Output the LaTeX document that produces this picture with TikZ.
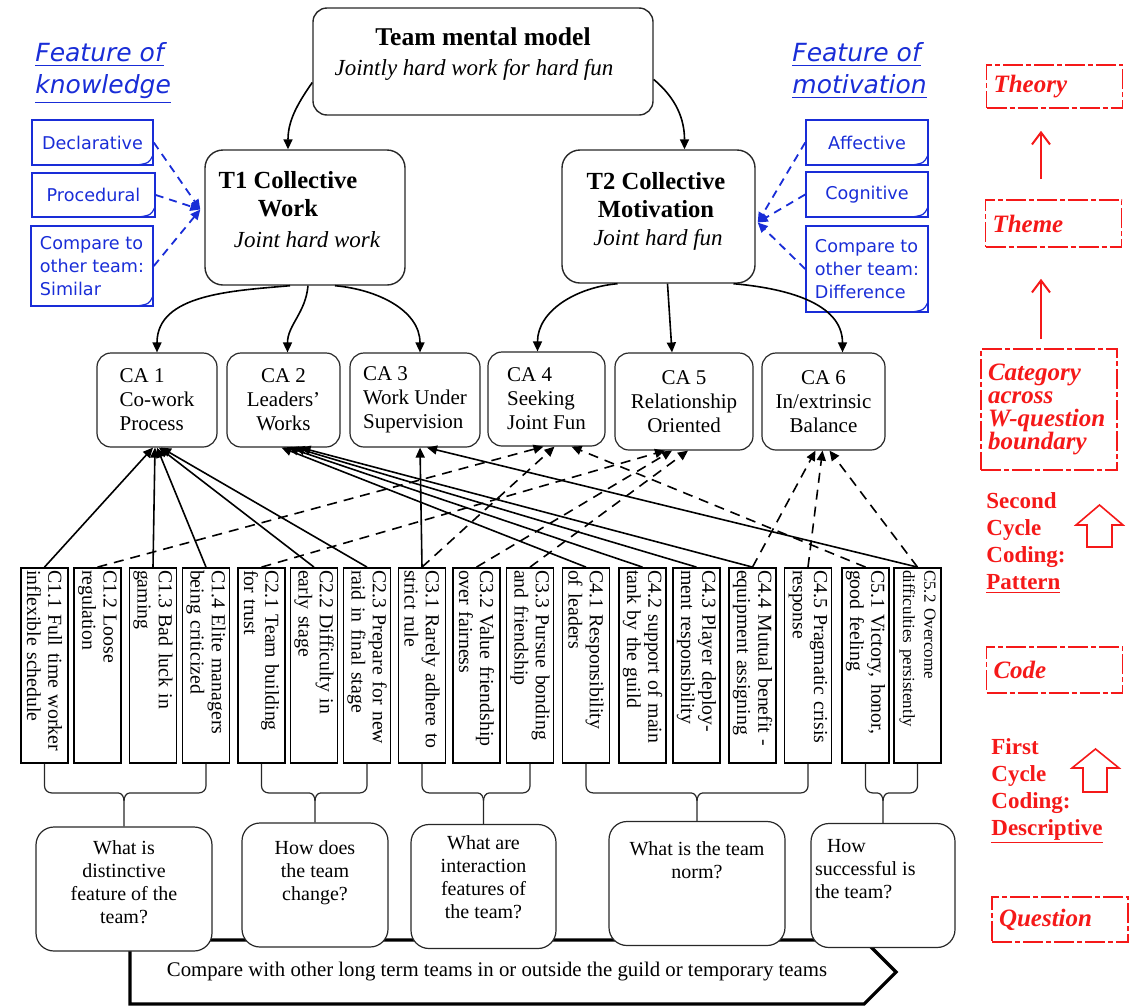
\documentclass[tikz,border=0pt]{standalone}
\usepackage{fontspec}
\setmainfont{Liberation Serif}
\newfontfamily\notefont{DejaVu Sans}
\usepackage{tikz}
\usetikzlibrary{arrows.meta,positioning,calc,shapes.symbols}
\definecolor{cLine}{RGB}{40,40,40}
\definecolor{cBlue}{RGB}{25,45,215}
\definecolor{cRed}{RGB}{245,25,25}
\tikzset{
  rbox/.style={draw=cLine, line width=0.7pt, rounded corners=9pt, fill=white},
  ttl/.style={font=\fontsize{12.3}{14}\selectfont\bfseries, align=center},
  sub/.style={font=\fontsize{11.5}{13}\selectfont\itshape},
  ca/.style={draw=cLine, line width=0.6pt, rounded corners=7pt, minimum width=60pt,
             minimum height=47pt, inner sep=1pt, font=\fontsize{10.5}{12}\selectfont},
  code/.style={draw=black, line width=0.9pt, rotate=-90, minimum width=97.5pt,
               minimum height=23.5pt, text width=95.5pt, inner xsep=1pt, inner ysep=1pt,
               align=left, font=\fontsize{9.9}{10.6}\selectfont},
  ques/.style={draw=cLine, line width=0.6pt, rounded corners=9pt, fill=white,
               inner sep=2pt, font=\fontsize{10}{11.5}\selectfont},
  note/.style={draw=cBlue, line width=0.8pt, text=cBlue, align=left,
               font=\notefont\fontsize{8.8}{11.5}\selectfont,
               path picture={\draw[cBlue, line width=0.6pt]
                 ([xshift=-8pt]path picture bounding box.south east) .. controls
                 ([xshift=-2pt,yshift=1pt]path picture bounding box.south east) ..
                 ([yshift=5pt]path picture bounding box.south east);}},
  feat/.style={text=cBlue, font=\notefont\fontsize{12.5}{16}\selectfont\itshape,
               align=left, anchor=west, inner sep=0pt},
  leg/.style={draw=cRed, line width=0.8pt, dash pattern=on 10pt off 1.5pt on 2.5pt off 1.5pt,
              text=cRed, font=\fontsize{12.5}{11.5}\selectfont\bfseries\itshape,
              align=left, text width=61pt, inner xsep=3.5pt},
  legtxt/.style={text=cRed, font=\fontsize{11.5}{13.5}\selectfont\bfseries,
                 align=left, anchor=west, inner sep=0pt},
  arr/.style={-{Triangle[length=5pt,width=4.5pt]}, line width=0.8pt},
  darr/.style={arr, dash pattern=on 5pt off 3.5pt},
  barr/.style={-{Triangle[length=5pt,width=4.5pt]}, cBlue, line width=0.9pt,
               dash pattern=on 4pt off 3pt},
  rarr/.style={-{Straight Barb[length=6pt,width=9pt]}, cRed, line width=1pt},
  brk/.style={draw=cLine, line width=0.6pt},
}
\newcommand{\qtxt}[3]{\parbox[c][58pt][t]{#1}{\centering\vspace*{#2}#3}}

\begin{document}
\begin{tikzpicture}[x=0.5pt, y=-0.5pt]
  \useasboundingbox (0,0) rectangle (1135,1007);

  % theory and themes
  \node[rbox, minimum width=170pt, minimum height=53.5pt, rounded corners=7pt] (tmm) at (483,61.5) {};
  \node[ttl, font=\fontsize{12.8}{14}\selectfont\bfseries] (tmmttl) at (483,37) {Team mental model};
  \node[sub] (tmmsub) at (474,70) {Jointly hard work for hard fun};

  \node[rbox, minimum width=100pt, minimum height=67.5pt] (t1) at (305,217.5) {};
  \node[ttl] (t1ttl) at (288,194) {T1 Collective\\Work};
  \node[sub] (t1sub) at (307,240) {Joint hard work};
  \node[rbox, minimum width=96.5pt, minimum height=66.5pt] (t2) at (658.5,216.5) {};
  \node[ttl] (t2ttl) at (656,195) {T2 Collective\\Motivation};
  \node[sub] (t2sub) at (658,240) {Joint hard fun};

  \draw[arr] (tmm.187) to[out=235,in=90] ($(t1.north)+(-17,0)$);
  \draw[arr] (tmm.354) to[out=-40,in=90] ($(t2.north)+(26,0)$);

  % features
  \node[feat] (fknow) at (35,73) {\underline{Feature of}\\\underline{knowledge}};
  \node[feat] (fmot) at (792,70.5) {\underline{Feature of}\\\underline{motivation}};
  \node[note, minimum width=60.5pt, minimum height=22.5pt] (kdec) at (92.5,142.5) {Declarative};
  \node[note, minimum width=61.5pt, minimum height=22pt] (kproc) at (93.5,195) {Procedural};
  \node[note, minimum width=61pt, minimum height=40pt] (ksim) at (92,266) {Compare to\\other team:\\Similar};
  \node[note, minimum width=61pt, minimum height=22.5pt] (maff) at (867,142.5) {Affective};
  \node[note, minimum width=61pt, minimum height=22.5pt] (mcog) at (867,194.5) {Cognitive};
  \node[note, minimum width=61pt, minimum height=43pt] (mdif) at (867,269) {Compare to\\other team:\\Difference};

  \draw[barr] (kdec.east) -- ([xshift=-2pt,yshift=4pt]t1.west);
  \draw[barr] (kproc.east) -- ([xshift=-2pt,yshift=4pt]t1.west);
  \draw[barr] (ksim.east) -- ([xshift=-2pt,yshift=4pt]t1.west);
  \draw[barr] (maff.west) -- ([xshift=1pt,yshift=-3pt]t2.east);
  \draw[barr] (mcog.west) -- ([xshift=1pt,yshift=-3pt]t2.east);
  \draw[barr] (mdif.west) -- ([xshift=1pt,yshift=-3pt]t2.east);

  % categories
  \node[ca, align=left] (ca1) at (157,400) {CA 1\\Co-work\\Process};
  \node[ca, minimum width=56.5pt, align=center] (ca2) at (283.5,400) {CA 2\\Leaders'\\Works};
  \node[ca, minimum width=65pt, align=left] (ca3) at (415,400) {CA 3\\Work Under\\Supervision};
  \node[ca, minimum width=58.5pt, align=left] (ca4) at (546.5,399) {CA 4\\Seeking\\Joint Fun};
  \node[ca, minimum width=69pt, minimum height=48.5pt, align=center] (ca5) at (684,401.5) {CA 5\\Relationship\\Oriented};
  \node[ca, minimum width=61.5pt, minimum height=48.5pt, align=center] (ca6) at (823.5,401.5) {CA 6\\In/extrinsic\\Balance};

  \draw[arr] ($(t1.south)+(-15,0)$) to[out=185,in=90] (ca1.north);
  \draw[arr] ($(t1.south)+(3,0)$) to[out=-95,in=90] ($(ca2.north)+(4,0)$);
  \draw[arr] ($(t1.south)+(30,0)$) to[out=-5,in=90] ($(ca3.north)+(5,0)$);
  \draw[arr] ($(t2.south)+(-41,0)$) to[out=185,in=90] ($(ca4.north)+(-9,0)$);
  \draw[arr] ($(t2.south)+(9,0)$) -- ($(ca5.north)+(-12,0)$);
  \draw[arr] ($(t2.south)+(75,0)$) to[out=-5,in=90] ($(ca6.north)+(19,0)$);

  % codes
  \node[code] (c11) at (44.5,665.5) {C1.1 Full time worker\\inflexible schedule};
  \node[code] (c12) at (97.5,665.5) {C1.2 Loose\\regulation};
  \node[code] (c13) at (153,665.5) {C1.3 Bad luck in\\gaming};
  \node[code] (c14) at (206,665.5) {C1.4 Elite managers\\being criticized};
  \node[code] (c21) at (261.5,665.5) {C2.1 Team building\\for trust};
  \node[code] (c22) at (314,665.5) {C2.2 Difficulty in\\early stage};
  \node[code] (c23) at (367,665.5) {C2.3 Prepare for new\\raid in final stage};
  \node[code] (c31) at (422,665.5) {C3.1 Rarely adhere to\\strict rule};
  \node[code] (c32) at (476.5,665.5) {C3.2 Value friendship\\over fairness};
  \node[code] (c33) at (530,665.5) {C3.3 Pursue bonding\\and friendship};
  \node[code] (c41) at (586,665.5) {C4.1 Responsibility\\of leaders};
  \node[code] (c42) at (642.5,665.5) {C4.2 support of main\\tank by the guild};
  \node[code] (c43) at (696.5,665.5) {C4.3 Player deploy-\\ment responsibility};
  \node[code] (c44) at (752.5,665.5) {C4.4 Mutual benefit -\\equipment assigning};
  \node[code] (c45) at (808,665.5) {C4.5 Pragmatic crisis\\response};
  \node[code] (c51) at (865.5,665.5) {C5.1 Victory, honor,\\good feeling};
  \node[code, font=\fontsize{8.5}{10.6}\selectfont] (c52) at (917.5,665.5) {C5.2 Overcome\\difficulties persistently};

  \draw[arr] (c11.west) -- ($(ca1.south)+(-4,0)$);
  \draw[arr] (c13.west) -- ($(ca1.south)+(-2,0)$);
  \draw[arr] (c14.west) -- (ca1.south);
  \draw[arr] (c22.west) -- ($(ca1.south)+(2,0)$);
  \draw[arr] (c23.west) -- ($(ca1.south)+(4,0)$);
  \draw[arr] (c41.west) -- ($(ca2.south)+(-2,0)$);
  \draw[arr] (c42.west) -- ($(ca2.south)+(5,0)$);
  \draw[arr] (c43.west) -- ($(ca2.south)+(11,0)$);
  \draw[arr] (c44.west) -- ($(ca2.south)+(17,0)$);
  \draw[arr] (c31.west) -- ($(ca3.south)+(5,0)$);
  \draw[arr] (c52.west) -- ($(ca3.south)+(12,0)$);
  \draw[darr] (c12.west) -- ($(ca4.south)+(-3,0)$);
  \draw[darr] (c31.west) -- ($(ca4.south)+(8,0)$);
  \draw[darr] (c51.west) -- ($(ca4.south)+(25,0)$);
  \draw[darr] (c21.west) -- ($(ca5.south)+(-19,0)$);
  \draw[darr] (c32.west) -- ($(ca5.south)+(-12,0)$);
  \draw[darr] (c33.west) -- ($(ca5.south)+(4,0)$);
  \draw[darr] (c44.west) -- ($(ca6.south)+(-8,0)$);
  \draw[darr] (c45.west) -- ($(ca6.south)+(-1,0)$);
  \draw[darr] (c52.west) -- ($(ca6.south)+(6,0)$);

  % questions
  \node[signal, signal to=east, draw=black, line width=1.6pt, minimum width=383pt,
        minimum height=32pt, inner sep=0pt, font=\fontsize{10.4}{12}\selectfont] (cmp) at (497,972)
        {Compare with other long term teams in or outside the guild or temporary teams};
  \node[ques] (q1) at (124,889) {\qtxt{84pt}{5pt}{What is\\distinctive\\feature of the\\team?}};
  \node[ques] (q2) at (315,885) {\qtxt{69pt}{7pt}{How does\\the team\\change?}};
  \node[ques] (q3) at (483.5,886.5) {\qtxt{68.5pt}{3.5pt}{What are\\interaction\\features of\\the team?}};
  \node[ques] (q4) at (697,883.5) {\qtxt{84pt}{8pt}{What is the team\\norm?}};
  \node[ques] (q5) at (883,885.5) {\qtxt{68pt}{6pt}{\raggedright\hspace*{6pt}How\\successful is\\the team?}};

  \draw[brk] (c11.east) -- ++(0,22) to[out=-90,in=180] ++(7,7) -- ($(q1.north|-c11.east)+(-6,29)$) to[out=0,in=90] ++(6,8) -- (q1.north);
  \draw[brk] (c14.east) -- ++(0,22) to[out=-90,in=0] ++(-7,7) -- ($(q1.north|-c14.east)+(6,29)$) to[out=180,in=90] ++(-6,8);
  \draw[brk] (c21.east) -- ++(0,22) to[out=-90,in=180] ++(7,7) -- ($(q2.north|-c21.east)+(-6,29)$) to[out=0,in=90] ++(6,8) -- (q2.north);
  \draw[brk] (c23.east) -- ++(0,22) to[out=-90,in=0] ++(-7,7) -- ($(q2.north|-c23.east)+(6,29)$) to[out=180,in=90] ++(-6,8);
  \draw[brk] (c31.east) -- ++(0,22) to[out=-90,in=180] ++(7,7) -- ($(q3.north|-c31.east)+(-6,29)$) to[out=0,in=90] ++(6,8) -- (q3.north);
  \draw[brk] (c33.east) -- ++(0,22) to[out=-90,in=0] ++(-7,7) -- ($(q3.north|-c33.east)+(6,29)$) to[out=180,in=90] ++(-6,8);
  \draw[brk] (c41.east) -- ++(0,22) to[out=-90,in=180] ++(7,7) -- ($(q4.north|-c41.east)+(-6,29)$) to[out=0,in=90] ++(6,8) -- (q4.north);
  \draw[brk] (c45.east) -- ++(0,22) to[out=-90,in=0] ++(-7,7) -- ($(q4.north|-c45.east)+(6,29)$) to[out=180,in=90] ++(-6,8);
  \draw[brk] (c51.east) -- ++(0,22) to[out=-90,in=180] ++(7,7) -- ($(q5.north|-c51.east)+(-6,29)$) to[out=0,in=90] ++(6,8) -- (q5.north);
  \draw[brk] (c52.east) -- ++(0,22) to[out=-90,in=0] ++(-7,7) -- ($(q5.north|-c52.east)+(6,29)$) to[out=180,in=90] ++(-6,8);

  % legend
  \node[leg, minimum height=21.5pt] (theory) at (1054.5,86.5) {Theory};
  \node[leg, minimum height=23.5pt] (theme) at (1053.5,223.5) {Theme};
  \node[leg, minimum height=60.5pt] (cat) at (1049,409.5) {Category\\across\\W-question\\boundary};
  \node[leg, minimum height=23pt] (lcode) at (1054.5,670) {Code};
  \node[leg, minimum height=22.5pt] (lques) at (1060,919.5) {Question};
  \node[legtxt] (scc) at (986,543) {Second\\Cycle\\Coding:\\\underline{Pattern}};
  \node[legtxt] (fcc) at (991,791) {First\\Cycle\\Coding:\\\underline{Descriptive}};

  \draw[rarr, shorten <=10pt, shorten >=11pt] ($(theme.north)+(-12.5,0)$) -- ($(theory.south)+(-13.5,0)$);
  \draw[rarr, shorten <=4.5pt, shorten >=15.5pt] ($(cat.north)+(-8,0)$) -- ($(theme.south)+(-12.5,0)$);
  \draw[cRed, line width=0.8pt] (1087,547) -- (1087,525) -- (1076,525) -- (1099.5,505) -- (1123,525) -- (1112,525) -- (1112,547) -- cycle;
  \draw[cRed, line width=0.8pt] (1083,792) -- (1083,768) -- (1072,768) -- (1095.5,749) -- (1119,768) -- (1107,768) -- (1107,792) -- cycle;
\end{tikzpicture}
\end{document}
